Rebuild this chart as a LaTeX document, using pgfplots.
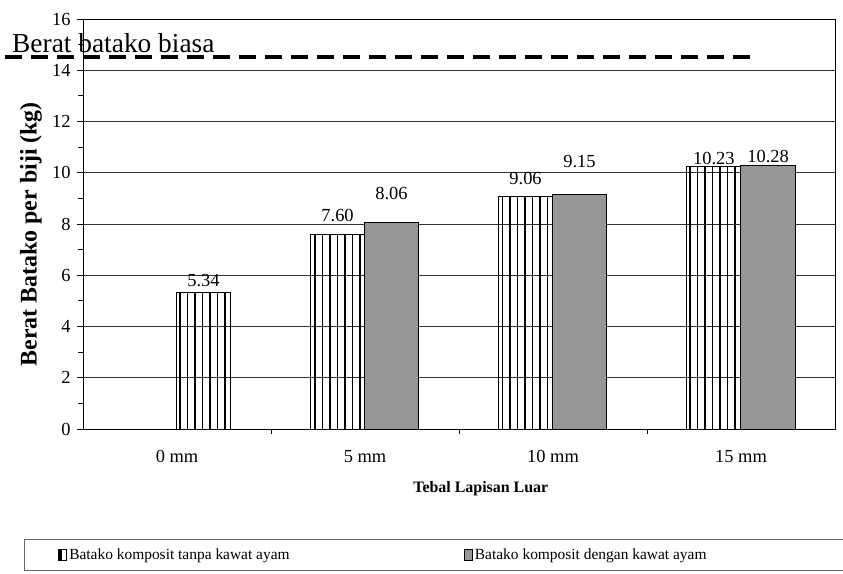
\documentclass[border=0pt]{standalone}
\usepackage{pgfplots}
\pgfplotsset{compat=1.18}
\usepackage{pgfplotstable}
\usetikzlibrary{patterns.meta}
\usepackage{fontspec}
\setmainfont{Liberation Serif}

\pgfplotstableread{
x y off
0.141 5.34 5
0.854 7.60 12
1.854 9.06 12
2.856 10.23 2
}\striped
\pgfplotstableread{
x y off
1.141 8.06 22
2.141 9.15 26
3.144 10.28 2
}\grayd

\begin{document}
\begin{tikzpicture}
\useasboundingbox (0,0) rectangle (843bp,-574bp);
\begin{axis}[
 at={(83bp,-429bp)}, anchor=south west,
 scale only axis, width=752bp, height=410bp,
 xmin=-0.5, xmax=3.5, ymin=0, ymax=16,
 xtick={0,1,2,3}, xticklabels={0 mm,5 mm,10 mm,15 mm},
 minor xtick={0.5,1.5,2.5},
 ytick={0,2,...,16}, minor ytick={1,3,...,15},
 xtick pos=bottom, ytick pos=left, tick align=outside,
 major tick length=6bp, minor tick length=5bp,
 major x tick style={draw=none},
 tick style={black, line width=0.8bp},
 ymajorgrids, major grid style={black!80, line width=0.7bp},
 axis line style={black, line width=1bp},
 ticklabel style={font=\fontsize{18.5}{20}\selectfont},
 xticklabel style={yshift=-12bp},
 yticklabel style={xshift=-3bp},
 /pgf/number format/assume math mode=true,
 bar width=0.29,
 clip=false,
 xlabel={Tebal Lapisan Luar},
 xlabel style={at={(axis description cs:0.529,-0.1463)}, anchor=center, font=\bfseries\fontsize{16}{18}\selectfont},
 ylabel={Berat Batako per biji (kg)},
 ylabel style={at={(axis description cs:-0.0691,0.475)}, anchor=center, font=\bfseries\fontsize{24}{26}\selectfont},
 legend columns=2,
 legend style={at={(axis description cs:-0.0785,-0.2683)}, anchor=north west,
   draw=black!60, line width=0.8bp, font=\fontsize{15.5}{18}\selectfont,
   inner xsep=34bp, inner ysep=7.5bp},
 legend cell align=left,
]
\addplot[ybar, bar shift=0pt, draw=black, line width=0.9bp,
  pattern={Lines[angle=90,distance=7.5bp,line width=1.2bp]},
  visualization depends on={\thisrow{off} \as \off},
  nodes near coords={\pgfmathprintnumber[fixed,fixed zerofill,precision=2]{\pgfplotspointmeta}},
  nodes near coords style={anchor=south, inner sep=0pt, yshift=\off bp, font=\fontsize{18.5}{20}\selectfont},
  legend image code/.code={\path[fill=white] (0bp,-5.5bp) rectangle (8bp,5.5bp); \path[draw=black,line width=0.7bp] (0bp,-5.5bp) rectangle (8bp,5.5bp); \path[draw=black,line width=0.6bp] (2.8bp,-5.5bp) -- (2.8bp,5.5bp);}
] table[x=x,y=y]{\striped};
\addlegendentry{\makebox[393bp][l]{Batako komposit tanpa kawat ayam}}
\addplot[ybar, bar shift=0pt, draw=black, line width=0.9bp, fill={rgb,255:red,150;green,150;blue,150},
  visualization depends on={\thisrow{off} \as \off},
  nodes near coords={\pgfmathprintnumber[fixed,fixed zerofill,precision=2]{\pgfplotspointmeta}},
  nodes near coords style={anchor=south, inner sep=0pt, yshift=\off bp, font=\fontsize{18.5}{20}\selectfont},
  legend image code/.code={\draw[black,line width=0.7bp,fill={rgb,255:red,150;green,150;blue,150}] (0bp,-5.5bp) rectangle (8bp,5.5bp);}
] table[x=x,y=y]{\grayd};
\addlegendentry{\makebox[420bp][l]{Batako komposit dengan kawat ayam}}
\addplot[black, line width=4bp, dash pattern=on 17bp off 9bp, forget plot] coordinates {(-0.915,14.5) (3.06,14.5)};
\node[anchor=base west, inner sep=0pt, font=\fontsize{27.5}{30}\selectfont] at (axis cs:-0.8777,14.71) {Berat batako biasa};
\end{axis}
\end{tikzpicture}
\end{document}
